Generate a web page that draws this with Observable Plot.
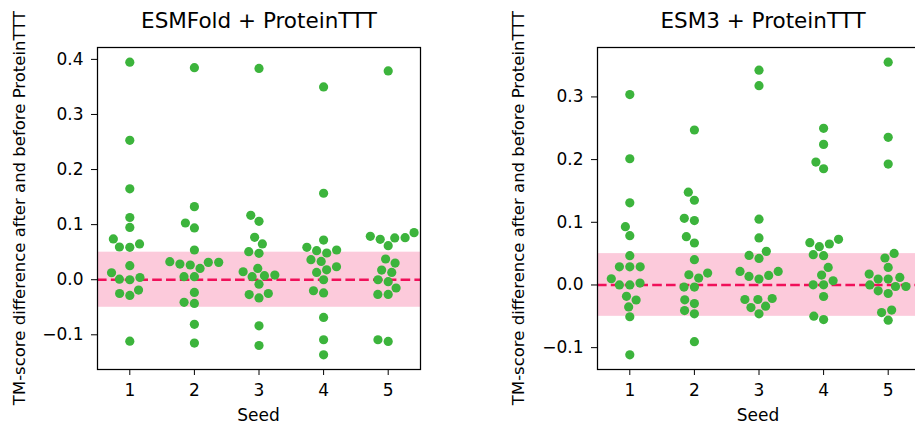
<!DOCTYPE html>
<html><head><meta charset="utf-8">
<script src="https://cdn.jsdelivr.net/npm/d3@7"></script>
<script src="https://cdn.jsdelivr.net/npm/@observablehq/plot@0.6"></script>
<style>
html,body{margin:0;padding:0;background:#fff;}
#root{position:relative;width:915px;height:426px;overflow:hidden;background:#fff;font-family:"DejaVu Sans",sans-serif;}
#p1,#p2{position:absolute;top:0;}
#p1{left:0px;width:457px;height:426px}
#p2{left:457px;width:463px;height:426px}
#p1 svg,#p2 svg{max-width:none !important;display:block}
#ov{position:absolute;left:0;top:0;pointer-events:none}
</style></head>
<body><div id="root"><div id="p1"></div><div id="p2"></div></div>
<script>
// ---------- data ----------
const seeds = [1, 2, 3, 4, 5];
const esmfoldSeed1 = [0.395, 0.253, 0.165, 0.113, 0.095, 0.074, 0.065, 0.0594, 0.0588, 0.0255, 0.0127, 0.004, 0.001, 0.000, -0.0188, -0.025, -0.0285, -0.1115];
const esmfoldSeed2 = [0.385, 0.1327, 0.103, 0.094, 0.054, 0.0327, 0.0315, 0.0315, 0.0285, 0.0267, 0.0206, 0.0055, 0.0055, -0.023, -0.041, -0.043, -0.081, -0.115];
const esmfoldSeed3 = [0.3836, 0.117, 0.106, 0.077, 0.065, 0.051, 0.048, 0.0206, 0.0145, 0.0085, 0.0073, 0.0055, -0.008, -0.025, -0.027, -0.033, -0.0836, -0.1194];
const esmfoldSeed4 = [0.350, 0.157, 0.072, 0.0588, 0.054, 0.0527, 0.0485, 0.0364, 0.0333, 0.0236, 0.018, 0.0133, 0.000, -0.020, -0.024, -0.0685, -0.109, -0.1364];
const esmfoldSeed5 = [0.379, 0.0855, 0.0788, 0.0758, 0.0764, 0.0733, 0.0618, 0.0376, 0.0303, 0.0176, 0.0133, 0.000, -0.0036, -0.015, -0.0267, -0.0267, -0.109, -0.112];

const esm3Seed1 = [0.3038, 0.2014, 0.131, 0.093, 0.0787, 0.0467, 0.029, 0.029, 0.029, 0.0099, 0.003, 0.000, 0.000, -0.0181, -0.024, -0.035, -0.0507, -0.1115];
const esm3Seed2 = [0.2472, 0.148, 0.1352, 0.1064, 0.1027, 0.077, 0.067, 0.0403, 0.019, 0.0163, 0.011, -0.0034, -0.0034, -0.0237, -0.0296, -0.0408, -0.046, -0.0904];
const esm3Seed3 = [0.3427, 0.318, 0.105, 0.075, 0.0536, 0.0472, 0.0424, 0.0216, 0.0216, 0.0152, 0.0136, 0.0094, -0.0216, -0.0232, -0.0232, -0.0338, -0.036, -0.046];
const esm3Seed4 = [0.2499, 0.2243, 0.196, 0.1854, 0.0728, 0.0675, 0.0654, 0.0611, 0.0483, 0.0467, 0.028, 0.0158, 0.0067, 0.0003, 0.0003, -0.0184, -0.0498, -0.0552];
const esm3Seed5 = [0.3555, 0.2355, 0.1928, 0.0504, 0.043, 0.028, 0.0174, 0.012, 0.0094, 0.0094, 0.000, -0.0024, -0.0024, -0.0093, -0.0136, -0.040, -0.044, -0.0562];

const panelTitles = ["ESMFold + ProteinTTT", "ESM3 + ProteinTTT"];
const yLabel = "TM-score difference after and before ProteinTTT";
const xLabel = "Seed";
const yTicksLeft = [-0.1, 0.0, 0.1, 0.2, 0.3, 0.4];
const yTicksRight = [-0.1, 0.0, 0.1, 0.2, 0.3];
const bandRange = [-0.05, 0.05];
const refLine = [0];

// ---------- styling / layout ----------
const H = 426, MT = 47, MB = 57;
const GREEN = "#3cb43c", BAND = "#fccadb", RED = "#f0105a";
const FONT = '"DejaVu Sans", sans-serif';
const COLLIDE_R = 4.95;

// seaborn-like beeswarm (pixel space), returns x offsets in px
function swarm(values, pxPerY, r) {
  const order = values.map((v, i) => i).sort((a, b) => values[a] - values[b]);
  const placed = [];
  const out = new Array(values.length).fill(0);
  for (const i of order) {
    const yi = values[i] * pxPerY;
    let xi = 0;
    const neighbors = [];
    for (let k = placed.length - 1; k >= 0; k--) {
      const pj = placed[k];
      if (yi - pj.y < 2 * r) neighbors.push(pj); else break;
    }
    if (neighbors.length) {
      const cands = [0];
      let leftFirst = true;
      for (const pj of neighbors) {
        const dy = yi - pj.y;
        const dx = Math.sqrt(Math.max(4 * r * r - dy * dy, 0)) * 1.05;
        if (leftFirst) cands.push(pj.x - dx, pj.x + dx); else cands.push(pj.x + dx, pj.x - dx);
        leftFirst = !leftFirst;
      }
      const sorted = cands.map((c, k) => [c, k]).sort((a, b) => (Math.abs(a[0]) - Math.abs(b[0])) || (a[1] - b[1]));
      for (const [c] of sorted) {
        let ok = true;
        for (const pj of neighbors) {
          const ddx = pj.x - c, ddy = pj.y - yi;
          if (ddx * ddx + ddy * ddy < 4 * r * r - 1e-9) { ok = false; break; }
        }
        if (ok) { xi = c; break; }
      }
    }
    placed.push({x: xi, y: yi});
    out[i] = xi;
  }
  return out;
}

function panel(series, yTicks, width, ml, mr) {
  const all = series.flat();
  const mn = d3.min(all), mx = d3.max(all), pad = (mx - mn) * 0.05;
  const lo = mn - pad, hi = mx + pad;
  const pxPerY = (H - MT - MB) / (hi - lo);
  const pxPerX = (width - ml - mr) / seeds.length;
  const points = [];
  series.forEach((vals, si) => {
    const offs = swarm(vals, pxPerY, COLLIDE_R);
    vals.forEach((v, k) => points.push({x: seeds[si] + offs[k] / pxPerX, y: v}));
  });
  return Plot.plot({
    width, height: H,
    marginTop: MT, marginBottom: MB, marginLeft: ml, marginRight: mr,
    style: {fontFamily: FONT, fontSize: "17px", color: "#000", background: "transparent", overflow: "visible", maxWidth: "none"},
    x: {domain: [0.5, 5.5]},
    y: {domain: [lo, hi]},
    marks: [
      Plot.rect(refLine, {y1: () => bandRange[0], y2: () => bandRange[1], fill: BAND}),
      Plot.ruleY(refLine, {stroke: RED, strokeWidth: 2.6, strokeDasharray: "9.6,4.2"}),
      Plot.dot(points, {x: "x", y: "y", r: 4.6, fill: GREEN}),
      Plot.frame({stroke: "#000", strokeWidth: 1.25}),
      Plot.axisX({ticks: seeds, tickFormat: d => String(d), tickSize: 6, tickPadding: 8, label: null}),
      Plot.axisY({ticks: yTicks, tickFormat: d3.format(".1f"), tickSize: 6, tickPadding: 8, label: null})
    ]
  });
}

document.getElementById("p1").append(
  panel([esmfoldSeed1, esmfoldSeed2, esmfoldSeed3, esmfoldSeed4, esmfoldSeed5], yTicksLeft, 457, 97, 37));
document.getElementById("p2").append(
  panel([esm3Seed1, esm3Seed2, esm3Seed3, esm3Seed4, esm3Seed5], yTicksRight, 463, 140, 0));

// ---------- text overlay ----------
const ov = d3.select("#root").append("svg").attr("id", "ov")
  .attr("width", 915).attr("height", H).style("font-family", FONT);
const panelsGeom = [{cx: 259, yl: 19, xl: 258.5}, {cx: 763, yl: 518, xl: 758}];
panelsGeom.forEach((g, i) => {
  ov.append("text").attr("x", g.cx).attr("y", 28.3).attr("text-anchor", "middle")
    .attr("font-size", 21.5).attr("fill", "#000").text(panelTitles[i]);
  ov.append("text").attr("x", g.xl).attr("y", 421).attr("text-anchor", "middle")
    .attr("font-size", 17).attr("fill", "#000").text(xLabel);
  ov.append("text").attr("transform", `translate(${g.yl},208) rotate(-90)`)
    .attr("text-anchor", "middle").attr("dominant-baseline", "central")
    .attr("font-size", 16.5).attr("fill", "#000").text(yLabel);
});
</script>
</body></html>
